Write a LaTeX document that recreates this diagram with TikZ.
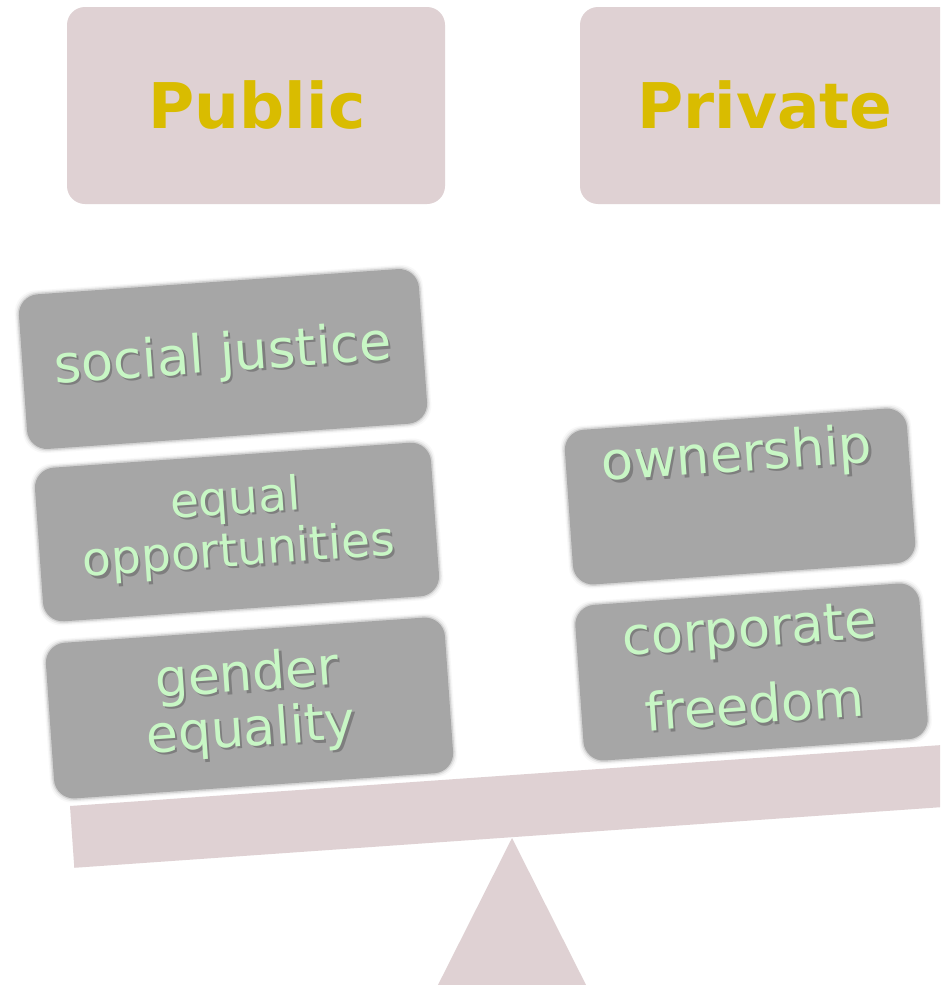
\documentclass[tikz,border=0pt]{standalone}
\usepackage{fontspec}
\setmainfont{DejaVu Sans}
\definecolor{panel}{HTML}{DFD1D3}
\definecolor{titlegold}{HTML}{D9BC00}
\definecolor{tilegray}{HTML}{A6A6A6}
\definecolor{mint}{HTML}{C8F7C5}
\tikzset{
  header/.style={shape=rectangle, rounded corners=18pt, fill=panel, draw=none, inner sep=0pt},
  headtext/.style={text=titlegold, inner sep=0pt, font=\fontsize{63}{70}\selectfont\bfseries},
  tilebody/.style 2 args={shape=rectangle, rounded corners=20pt, fill=tilegray, draw=none,
    inner sep=0pt, minimum width=#1, minimum height=#2, rotate=4},
  tilehalo/.style 2 args={shape=rectangle, rounded corners=22pt, fill=tilegray, draw=none,
    inner sep=0pt, minimum width=#1, minimum height=#2, rotate=4},
  tiletext/.style={text=mint, align=center, inner sep=0pt, rotate=4},
  tileshade/.style={text=black, opacity=0.24, align=center, inner sep=0pt, rotate=4,
    xshift=2pt, yshift=-2.5pt},
}
% a grey tile with softened edges: name, centre, width, height
\newcommand\softtile[4]{%
  \node[tilehalo={#3+7pt}{#4+7pt}, opacity=0.08] (#1-outer) at #2 {};
  \node[tilehalo={#3+4.5pt}{#4+4.5pt}, opacity=0.16] (#1-mid) at #2 {};
  \node[tilehalo={#3+2pt}{#4+2pt}, opacity=0.35] (#1-inner) at #2 {};
  \node[tilebody={#3-1pt}{#4-1pt}] (#1) at #2 {};
}
% light green label with a faint drop shadow: name, centre, font, text
\newcommand\tilelabel[4]{%
  \node[tileshade, font=#3] (#1-shade) at #2 {#4};
  \node[tiletext, font=#3] (#1) at #2 {#4};
}
\begin{document}
\begin{tikzpicture}[x=1pt,y=-1pt]
\useasboundingbox (0,0) rectangle (940,985);
\clip (0,0) rectangle (940,985);
\fill[white] (0,0) rectangle (940,985);

% column headers
\node[header, minimum width=378pt, minimum height=197pt] (public) at (256,105.5) {};
\node[headtext] (publictext) at (257,105) {Public};
\node[header, minimum width=380pt, minimum height=197pt] (private) at (770,105.5) {};
\node[headtext] (privatetext) at (765,105) {Private};

% left pan
\softtile{justice}{(223,359)}{402pt}{156pt}
\tilelabel{justicetext}{(223,357)}{\fontsize{52.5}{56}\selectfont}{social justice}
\softtile{opportunity}{(237,532)}{398pt}{155pt}
\tilelabel{opportunitytext}{(237,527)}{\fontsize{47}{52}\selectfont}{equal\\opportunities}
\softtile{gender}{(249.5,708)}{401pt}{157pt}
\tilelabel{gendertext}{(249,704)}{\fontsize{52}{55}\selectfont}{gender\\equality}

% right pan
\softtile{ownership}{(740,496.5)}{344pt}{156pt}
\tilelabel{ownershiptext}{(737,457)}{\fontsize{52.5}{56}\selectfont}{ownership}
\softtile{corporate}{(751.5,672)}{346pt}{157pt}
\tilelabel{corporatetext}{(752,667)}{\fontsize{52.5}{77}\selectfont}{corporate\\freedom}

% tilted beam and fulcrum
\fill[panel] (70,806) -- (74.3,867.8) -- (992,803.6) -- (988,741.8) -- cycle;
\fill[panel] (512,838) -- (593.6,1000) -- (430.4,1000) -- cycle;
\end{tikzpicture}
\end{document}
